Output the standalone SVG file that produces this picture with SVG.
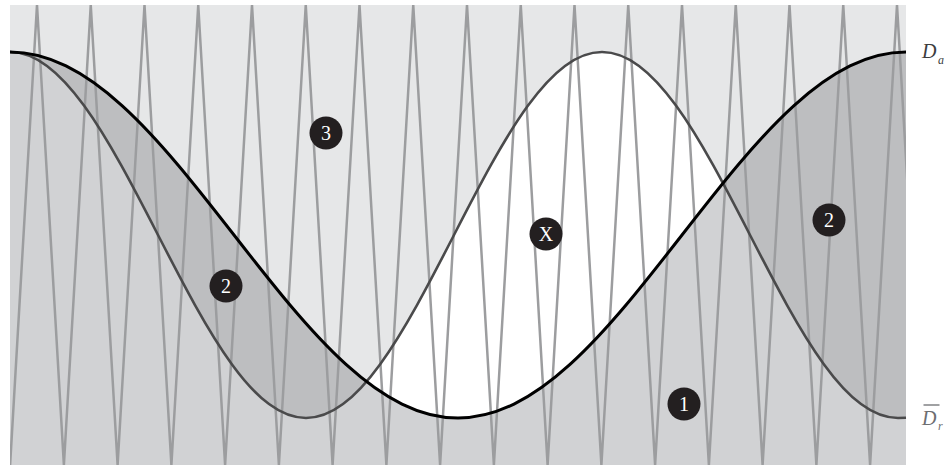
<svg xmlns="http://www.w3.org/2000/svg" width="946" height="465" viewBox="0 0 946 465">
  <style>
    .zig { fill: none; stroke: #9c9d9f; stroke-width: 2.5; stroke-linejoin: miter; }
    .da { fill: none; stroke: #000000; stroke-width: 3; }
    .dr { fill: none; stroke: #4a4a4b; stroke-width: 2.6; }
    .badge { fill: #231f20; }
    .num { fill: #ffffff; font-family: "Liberation Serif", "Times New Roman", serif; font-size: 20px; text-anchor: middle; }
    .lbl { font-family: "Liberation Serif", "Times New Roman", serif; font-style: italic; }
  </style>
  <defs>
    <path id="blackCurve" d="M10,52 C28.67,52 47.33,56.76 66,65.93 C84.67,75.10 103.33,88.66 122,105.60 C140.67,122.54 159.33,142.84 178,164.97 C196.67,187.10 215.33,211.04 234,235 C252.67,258.96 271.33,282.90 290,305.03 C308.67,327.16 327.33,347.46 346,364.40 C364.67,381.34 383.33,394.90 402,404.07 C420.67,413.24 439.33,418 458,418 C476.67,418 495.33,413.24 514,404.07 C532.67,394.90 551.33,381.34 570,364.40 C588.67,347.46 607.33,327.16 626,305.03 C644.67,282.90 663.33,258.96 682,235 C700.67,211.04 719.33,187.10 738,164.97 C756.67,142.84 775.33,122.54 794,105.60 C812.67,88.66 831.33,75.10 850,65.93 C868.67,56.76 887.33,52 906,52"/>
    <path id="grayCurve" d="M10,52 C22.33,52 34.67,56.76 47,65.93 C59.33,75.10 71.67,88.66 84,105.60 C96.33,122.54 108.67,142.84 121,164.97 C133.33,187.10 145.67,211.04 158,235 C170.33,258.96 182.67,282.90 195,305.03 C207.33,327.16 219.67,347.46 232,364.40 C244.33,381.34 256.67,394.90 269,404.07 C281.33,413.24 293.67,418 306,418 C318.33,418 330.67,413.24 343,404.07 C355.33,394.90 367.67,381.34 380,364.40 C392.33,347.46 404.67,327.16 417,305.03 C429.33,282.90 441.67,258.96 454,235 C466.33,211.04 478.67,187.10 491,164.97 C503.33,142.84 515.67,122.54 528,105.60 C540.33,88.66 552.67,75.10 565,65.93 C577.33,56.76 589.67,52 602,52 C614.33,52 626.67,56.76 639,65.93 C651.33,75.10 663.67,88.66 676,105.60 C688.33,122.54 700.67,142.84 713,164.97 C725.33,187.10 737.67,211.04 750,235 C762.33,258.96 774.67,282.90 787,305.03 C799.33,327.16 811.67,347.46 824,364.40 C836.33,381.34 848.67,394.90 861,404.07 C873.33,413.24 885.67,418 898,418 L906,417.7"/>
    <path id="underGray" d="M10,52 C22.33,52 34.67,56.76 47,65.93 C59.33,75.10 71.67,88.66 84,105.60 C96.33,122.54 108.67,142.84 121,164.97 C133.33,187.10 145.67,211.04 158,235 C170.33,258.96 182.67,282.90 195,305.03 C207.33,327.16 219.67,347.46 232,364.40 C244.33,381.34 256.67,394.90 269,404.07 C281.33,413.24 293.67,418 306,418 C318.33,418 330.67,413.24 343,404.07 C355.33,394.90 367.67,381.34 380,364.40 C392.33,347.46 404.67,327.16 417,305.03 C429.33,282.90 441.67,258.96 454,235 C466.33,211.04 478.67,187.10 491,164.97 C503.33,142.84 515.67,122.54 528,105.60 C540.33,88.66 552.67,75.10 565,65.93 C577.33,56.76 589.67,52 602,52 C614.33,52 626.67,56.76 639,65.93 C651.33,75.10 663.67,88.66 676,105.60 C688.33,122.54 700.67,142.84 713,164.97 C725.33,187.10 737.67,211.04 750,235 C762.33,258.96 774.67,282.90 787,305.03 C799.33,327.16 811.67,347.46 824,364.40 C836.33,381.34 848.67,394.90 861,404.07 C873.33,413.24 885.67,418 898,418 L906,417.7 L906,465 L10,465 Z"/>
    <clipPath id="frame"><rect x="10" y="5" width="896" height="460"/></clipPath>
    <clipPath id="underBlack">
      <path d="M10,52 C28.67,52 47.33,56.76 66,65.93 C84.67,75.10 103.33,88.66 122,105.60 C140.67,122.54 159.33,142.84 178,164.97 C196.67,187.10 215.33,211.04 234,235 C252.67,258.96 271.33,282.90 290,305.03 C308.67,327.16 327.33,347.46 346,364.40 C364.67,381.34 383.33,394.90 402,404.07 C420.67,413.24 439.33,418 458,418 C476.67,418 495.33,413.24 514,404.07 C532.67,394.90 551.33,381.34 570,364.40 C588.67,347.46 607.33,327.16 626,305.03 C644.67,282.90 663.33,258.96 682,235 C700.67,211.04 719.33,187.10 738,164.97 C756.67,142.84 775.33,122.54 794,105.60 C812.67,88.66 831.33,75.10 850,65.93 C868.67,56.76 887.33,52 906,52 L906,465 L10,465 Z"/>
    </clipPath>
  </defs>

  <g id="regions">
    <rect x="10" y="5" width="896" height="460" fill="#e6e7e8"/>
    <path fill="#bdbec0" d="M10,52 C28.67,52 47.33,56.76 66,65.93 C84.67,75.10 103.33,88.66 122,105.60 C140.67,122.54 159.33,142.84 178,164.97 C196.67,187.10 215.33,211.04 234,235 C252.67,258.96 271.33,282.90 290,305.03 C308.67,327.16 327.33,347.46 346,364.40 C364.67,381.34 383.33,394.90 402,404.07 C420.67,413.24 439.33,418 458,418 C476.67,418 495.33,413.24 514,404.07 C532.67,394.90 551.33,381.34 570,364.40 C588.67,347.46 607.33,327.16 626,305.03 C644.67,282.90 663.33,258.96 682,235 C700.67,211.04 719.33,187.10 738,164.97 C756.67,142.84 775.33,122.54 794,105.60 C812.67,88.66 831.33,75.10 850,65.93 C868.67,56.76 887.33,52 906,52 L906,465 L10,465 Z"/>
    <use href="#underGray" fill="#ffffff"/>
    <g clip-path="url(#underBlack)">
      <use href="#underGray" fill="#d1d2d4"/>
    </g>
  </g>

  <g id="zigzag" clip-path="url(#frame)">
    <polyline class="zig" points="10.1,465 37,5 63.9,465 90.75,5 117.6,465 144.5,5 171.4,465 198.25,5 225.1,465 252,5 278.9,465 305.75,5 332.6,465 359.5,5 386.4,465 413.25,5 440.1,465 467,5 493.9,465 520.75,5 547.6,465 574.5,5 601.4,465 628.25,5 655.1,465 682,5 708.9,465 735.75,5 762.6,465 789.5,5 816.4,465 843.25,5 870.1,465 897,5 923.9,465"/>
  </g>

  <g id="connectors">
    <use href="#grayCurve" class="dr"/>
    <use href="#blackCurve" class="da"/>
  </g>

  <g id="node-3">
    <circle class="badge" cx="326" cy="133" r="16.5"/>
    <text class="num" x="326" y="140">3</text>
  </g>
  <g id="node-X">
    <circle class="badge" cx="546" cy="234" r="16.5"/>
    <text class="num" x="546" y="241">X</text>
  </g>
  <g id="node-2-left">
    <circle class="badge" cx="226" cy="286" r="16.5"/>
    <text class="num" x="226" y="293">2</text>
  </g>
  <g id="node-2-right">
    <circle class="badge" cx="829" cy="220" r="16.5"/>
    <text class="num" x="829" y="227">2</text>
  </g>
  <g id="node-1">
    <circle class="badge" cx="684" cy="404" r="16.5"/>
    <text class="num" x="684" y="411">1</text>
  </g>

  <g id="label-Da">
    <text class="lbl" x="922" y="58" fill="#3c3c3e" font-size="20">D</text>
    <text class="lbl" x="938" y="63.5" fill="#3c3c3e" font-size="12">a</text>
  </g>
  <g id="label-Dr">
    <line x1="923.5" y1="405" x2="939.5" y2="405" stroke="#6d6e71" stroke-width="1.3"/>
    <text class="lbl" x="922" y="425" fill="#6d6e71" font-size="20">D</text>
    <text class="lbl" x="938" y="430" fill="#6d6e71" font-size="12">r</text>
  </g>
</svg>
